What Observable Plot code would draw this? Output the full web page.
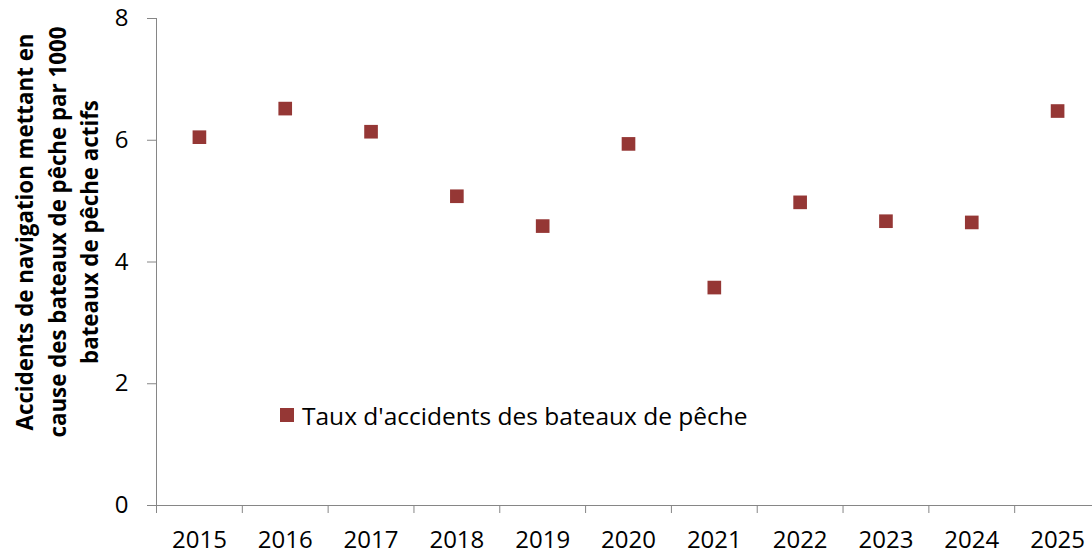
<!DOCTYPE html>
<html>
<head>
<meta charset="utf-8">
<script src="https://cdn.jsdelivr.net/npm/d3@7"></script>
<script src="https://cdn.jsdelivr.net/npm/@observablehq/plot@0.6"></script>
<style>
  html, body { margin: 0; padding: 0; background: #fff; overflow: hidden; }
  #wrap { position: relative; width: 1092px; height: 555px; overflow: hidden; font-family: "Open Sans", "Noto Sans", sans-serif; }
  #ytitle { position: absolute; width: 480px; height: 98px; left: -182.5px; top: 183px;
    transform: rotate(-90deg); transform-origin: 50% 50%; text-align: center;
    font-weight: bold; font-size: 22.3px; line-height: 32.5px; color: #000; }
  #legend { position: absolute; left: 280px; top: 398.5px; height: 33px; line-height: 33px; display: flex; align-items: center; font-size: 24.5px; color: #000; }
  #legend .sw { width: 14px; height: 14px; margin-right: 8px; }
</style>
</head>
<body>
<div id="wrap"></div>
<script>
const years = [2015, 2016, 2017, 2018, 2019, 2020, 2021, 2022, 2023, 2024, 2025];
const rates = [6.05, 6.52, 6.14, 5.08, 4.59, 5.94, 3.58, 4.98, 4.67, 4.65, 6.48];
const yTicks = [0, 2, 4, 6, 8];
const seriesName = "Taux d'accidents des bateaux de pêche";
const yTitle = ["Accidents de navigation mettant en", "cause des bateaux de pêche par 1000", "bateaux de pêche actifs"];
const color = "#953735";
const axisColor = "#868686";

const data = years.map((y, i) => ({year: y, rate: rates[i]}));
const boundaries = years.map(y => y - 0.5);

const chart = Plot.plot({
  width: 1100,
  height: 555,
  marginTop: 18,
  marginBottom: 50,
  marginLeft: 156,
  marginRight: 0,
  style: {maxWidth: "none", fontFamily: "'Open Sans', 'Noto Sans', sans-serif", fontSize: "24px", color: "#000", overflow: "visible"},
  x: {domain: [years[0] - 0.5, years[years.length - 1] + 0.5]},
  y: {domain: [0, 8]},
  marks: [
    Plot.axisY({ticks: yTicks, tickSize: 9, tickPadding: 19, stroke: axisColor, label: null, fill: "#000", fontSize: 24}),
    Plot.frame({anchor: "left", stroke: axisColor}),
    Plot.ruleY([0], {stroke: axisColor}),
    Plot.axisX({ticks: boundaries, tickSize: 8, tickFormat: () => "", stroke: axisColor, label: null}),
    Plot.axisX({ticks: years, tickSize: 0, tickPadding: 25, tickFormat: d => String(d), label: null, fill: "#000", fontSize: 24}),
    Plot.dot(data, {x: "year", y: "rate", symbol: "square", r: 7.7, fill: color, stroke: null})
  ]
});

const wrap = document.getElementById("wrap");
wrap.appendChild(chart);

const t = document.createElement("div");
t.id = "ytitle";
t.innerHTML = yTitle.map(s => `<div>${s}</div>`).join("");
wrap.appendChild(t);

const lg = document.createElement("div");
lg.id = "legend";
lg.innerHTML = `<span class="sw" style="background:${color}"></span><span>${seriesName}</span>`;
wrap.appendChild(lg);
</script>
</body>
</html>
